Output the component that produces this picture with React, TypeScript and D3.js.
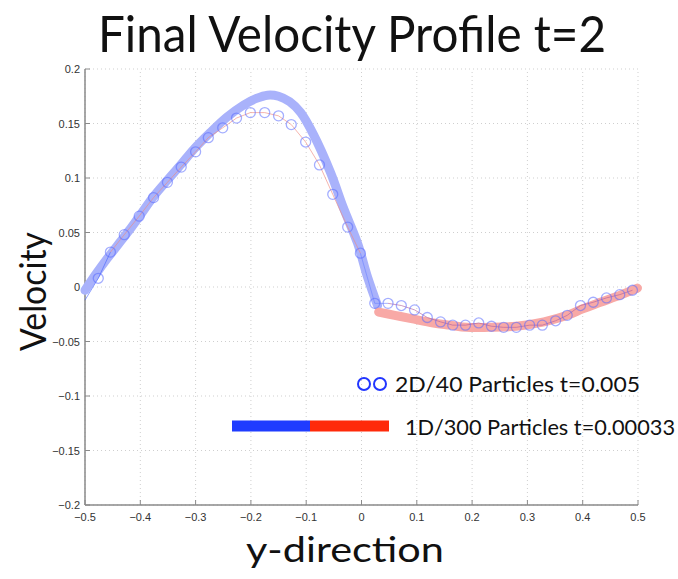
import React from "react";
import * as d3 from "d3";

const W = 678;
const H = 579;

const titleText = "Final Velocity Profile t=2";
const xLabel = "y-direction";
const yLabel = "Velocity";
const legendLabels = ["2D/40 Particles t=0.005", "1D/300 Particles t=0.00033"];

const xTicks = [-0.5, -0.4, -0.3, -0.2, -0.1, 0, 0.1, 0.2, 0.3, 0.4, 0.5];
const yTicks = [-0.2, -0.15, -0.1, -0.05, 0, 0.05, 0.1, 0.15, 0.2];
const xTickLabels = ["\u22120.5", "\u22120.4", "\u22120.3", "\u22120.2", "\u22120.1", "0", "0.1", "0.2", "0.3", "0.4", "0.5"];
const yTickLabels = ["\u22120.2", "\u22120.15", "\u22120.1", "\u22120.05", "0", "0.05", "0.1", "0.15", "0.2"];

// 1D solution, left (blue) part
const oneDLeftX = [-0.5, -0.48, -0.46, -0.44, -0.42, -0.4, -0.376, -0.351, -0.327, -0.304, -0.273, -0.243, -0.213, -0.19, -0.17, -0.15, -0.13, -0.11, -0.087, -0.056, -0.033, -0.007, 0.011, 0.029];
const oneDLeftY = [-0.003, 0.012, 0.026, 0.039, 0.052, 0.066, 0.083, 0.098, 0.112, 0.126, 0.142, 0.156, 0.167, 0.173, 0.176, 0.175, 0.17, 0.16, 0.14, 0.105, 0.073, 0.04, 0.009, -0.017];

// 1D solution, right (red) part
const oneDRightX = [0.031, 0.06, 0.09, 0.13, 0.16, 0.19, 0.23, 0.28, 0.33, 0.372, 0.4, 0.432, 0.47, 0.499];
const oneDRightY = [-0.023, -0.026, -0.029, -0.033, -0.035, -0.037, -0.037, -0.036, -0.032, -0.026, -0.02, -0.014, -0.007, -0.001];

// 2D particles
const twoDX = [-0.476, -0.454, -0.429, -0.402, -0.376, -0.351, -0.326, -0.3, -0.277, -0.251, -0.226, -0.201, -0.175, -0.15, -0.127, -0.101, -0.076, -0.052, -0.025, -0.002, 0.024, 0.048, 0.072, 0.096, 0.119, 0.143, 0.165, 0.188, 0.212, 0.235, 0.257, 0.28, 0.304, 0.327, 0.351, 0.372, 0.396, 0.419, 0.443, 0.467, 0.49];
const twoDY = [0.008, 0.032, 0.048, 0.065, 0.082, 0.096, 0.11, 0.124, 0.137, 0.146, 0.155, 0.16, 0.16, 0.157, 0.149, 0.133, 0.112, 0.085, 0.055, 0.031, -0.015, -0.015, -0.017, -0.021, -0.028, -0.032, -0.035, -0.035, -0.033, -0.036, -0.037, -0.037, -0.035, -0.035, -0.031, -0.026, -0.017, -0.014, -0.01, -0.007, -0.003];
const twoDStart = [-0.5, -0.012];

export default function App() {
  const x = d3.scaleLinear().domain([-0.5, 0.5]).range([85, 638]);
  const y = d3.scaleLinear().domain([-0.2, 0.2]).range([505, 69]);

  const line = d3
    .line<[number, number]>()
    .x((d) => x(d[0]))
    .y((d) => y(d[1]))
    .curve(d3.curveCatmullRom.alpha(0.5));
  const straight = d3
    .line<[number, number]>()
    .x((d) => x(d[0]))
    .y((d) => y(d[1]));

  const leftPts: [number, number][] = oneDLeftX.map((v, i) => [v, oneDLeftY[i]]);
  const rightPts: [number, number][] = oneDRightX.map((v, i) => [v, oneDRightY[i]]);
  const twoPts: [number, number][] = twoDX.map((v, i) => [v, twoDY[i]]);
  const thinPts: [number, number][] = [[twoDStart[0], twoDStart[1]], ...twoPts];

  const segColor = (a: number) => {
    if (a < -0.45) return "#4a66ff";
    if (a < -0.01) return "#f08a80";
    if (a < 0.05) return "#6f86ff";
    return "#b060a0";
  };

  const thinSegs = thinPts.slice(0, -1).map((p, i) => ({ a: p, b: thinPts[i + 1] }));

  const x0 = x.range()[0];
  const x1 = x.range()[1];
  const y0 = y.range()[0];
  const y1 = y.range()[1];

  const tickFont = "'Liberation Sans', Arial, sans-serif";
  const bigFont = "Lato, 'Open Sans', sans-serif";

  return (
    <svg
      width={W}
      height={H}
      style={{ position: "absolute", left: 0, top: 0, background: "#fff", display: "block" }}
    >
      <rect x={0} y={0} width={W} height={H} fill="#fff" />
      {/* grid */}
      {xTicks.map((t, i) => (
        <line key={"gx" + i} x1={x(t)} x2={x(t)} y1={y0} y2={y1} stroke="#cfcfcf" strokeWidth={1} strokeDasharray="1,3" />
      ))}
      {yTicks.map((t, i) => (
        <line key={"gy" + i} x1={x0} x2={x1} y1={y(t)} y2={y(t)} stroke="#cfcfcf" strokeWidth={1} strokeDasharray="1,3" />
      ))}

      {/* axes */}
      <line x1={x0} x2={x0} y1={y1} y2={y0} stroke="#8a8a8a" strokeWidth={1.5} />
      <line x1={x0} x2={x1} y1={y0} y2={y0} stroke="#8a8a8a" strokeWidth={1.5} />
      {xTicks.map((t, i) => (
        <g key={"tx" + i}>
          <line x1={x(t)} x2={x(t)} y1={y0} y2={y0 - 5} stroke="#8a8a8a" strokeWidth={1} />
          <text x={x(t)} y={521} textAnchor="middle" fontSize={11} fontFamily={tickFont} fill="#333">
            {xTickLabels[i]}
          </text>
        </g>
      ))}
      {yTicks.map((t, i) => (
        <g key={"ty" + i}>
          <line x1={x0} x2={x0 + 5} y1={y(t)} y2={y(t)} stroke="#8a8a8a" strokeWidth={1} />
          <text x={x0 - 5} y={y(t) + 4} textAnchor="end" fontSize={11} fontFamily={tickFont} fill="#333">
            {yTickLabels[i]}
          </text>
        </g>
      ))}

      {/* thick 1D bands */}
      <path d={line(leftPts) || ""} fill="none" stroke="#a9b2fb" strokeWidth={9} strokeLinecap="round" strokeLinejoin="round" />
      <path d={line(rightPts) || ""} fill="none" stroke="#f8a9a6" strokeWidth={9} strokeLinecap="round" strokeLinejoin="round" />

      {/* thin 2D line */}
      {thinSegs.map((s, i) => (
        <path
          key={"ts" + i}
          d={straight([s.a, s.b]) || ""}
          fill="none"
          stroke={segColor((s.a[0] + s.b[0]) / 2)}
          strokeWidth={0.8}
          strokeOpacity={0.8}
        />
      ))}

      {/* 2D circles */}
      {twoPts.map((p, i) => (
        <circle key={"c" + i} cx={x(p[0])} cy={y(p[1])} r={5} fill="none" stroke="#5a6cff" strokeOpacity={0.55} strokeWidth={1.3} />
      ))}

      {/* legend */}
      <circle cx={364} cy={384} r={6} fill="none" stroke="#2236ff" strokeWidth={2} />
      <circle cx={380} cy={384} r={6} fill="none" stroke="#2236ff" strokeWidth={2} />
      <text x={395} y={392} fontSize={21} fontFamily={bigFont} fill="#111" textLength={245} lengthAdjust="spacingAndGlyphs">
        {legendLabels[0]}
      </text>
      <line x1={232} x2={310} y1={426} y2={426} stroke="#1f3cff" strokeWidth={11} />
      <line x1={310} x2={389} y1={426} y2={426} stroke="#ff2a0a" strokeWidth={11} />
      <text x={405} y={435} fontSize={22} fontFamily={bigFont} fill="#111" textLength={270} lengthAdjust="spacingAndGlyphs">
        {legendLabels[1]}
      </text>

      {/* titles */}
      <text x={98} y={52} fontSize={50} fontFamily={bigFont} fill="#111" textLength={508} lengthAdjust="spacingAndGlyphs">
        {titleText}
      </text>
      <text x={246} y={562} fontSize={34} fontFamily={bigFont} fill="#111" textLength={198} lengthAdjust="spacingAndGlyphs">
        {xLabel}
      </text>
      <text
        transform={`translate(46,351) rotate(-90)`}
        x={0}
        y={0}
        fontSize={36}
        fontFamily={bigFont}
        fill="#111"
        textLength={119}
        lengthAdjust="spacingAndGlyphs"
      >
        {yLabel}
      </text>
    </svg>
  );
}
